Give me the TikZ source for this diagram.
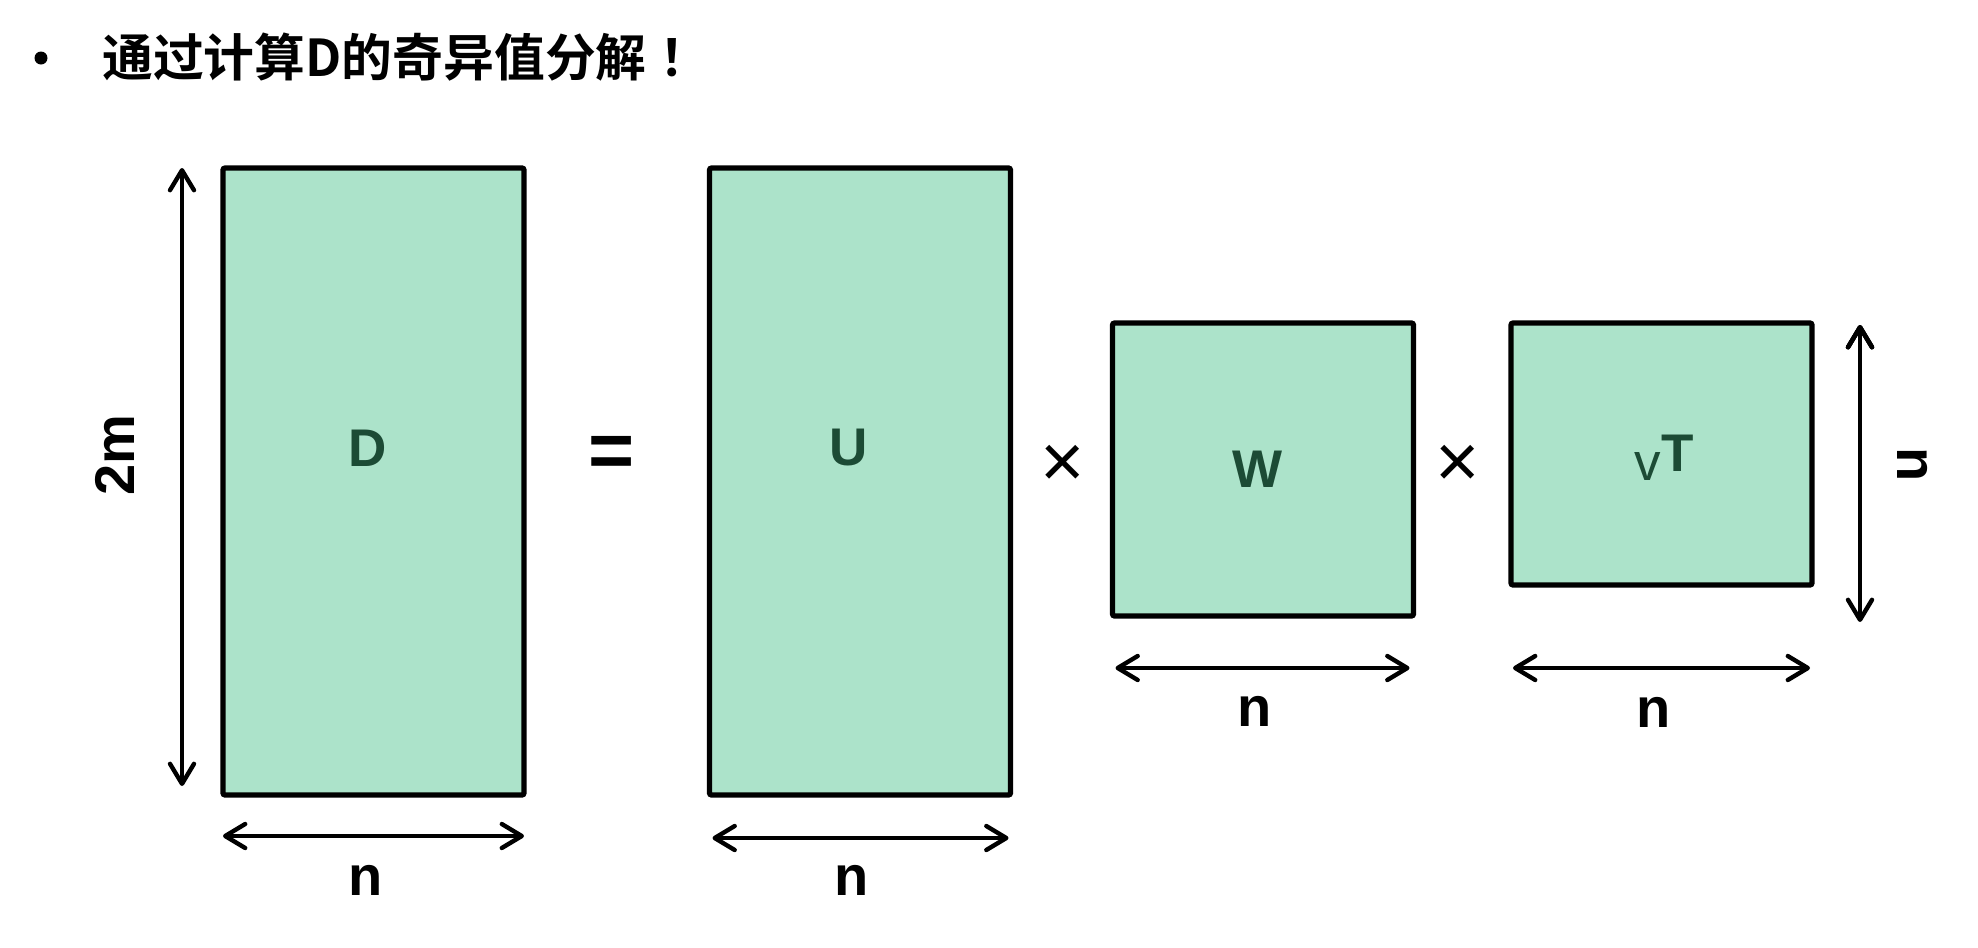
\documentclass[tikz,border=0pt]{standalone}
\usepackage{fontspec}
\setmainfont{Liberation Sans}
\newfontfamily\cjk{Noto Sans CJK SC}[BoldFont={Noto Sans CJK SC Bold}]
\usepackage{tikz}
\usetikzlibrary{arrows.meta}
\usetikzlibrary{calc}
\usetikzlibrary{positioning}

\definecolor{matfill}{HTML}{ACE3CA}
\definecolor{matlabel}{HTML}{1C4B35}

\tikzset{
  matrixbox/.style={draw,line width=2.6pt,fill=matfill,rounded corners=1pt,
    minimum width=150.5pt,inner sep=0pt,outer sep=0pt},
  boxlabel/.style={inner sep=0pt,text=matlabel,font=\fontsize{26.5}{30}\selectfont\bfseries},
  dimarrow/.style={line width=2.2pt,
    {Straight Barb[length=10pt,width=12pt,round]}-{Straight Barb[length=10pt,width=12pt,round]}},
  dimlabel/.style={inner sep=0pt,font=\fontsize{28}{32}\selectfont\bfseries},
  opsign/.style={inner sep=0pt,font=\fontsize{38}{40}\selectfont}
}

\begin{document}
\begin{tikzpicture}[x=0.5pt,y=-0.5pt]

  \useasboundingbox (0,0) rectangle (1978,948);

  \node [circle,fill,inner sep=0pt,minimum size=6.5pt] (bullet) at (41,58) {};
  \node [anchor=west,inner sep=0pt,font=\cjk\bfseries\fontsize{25.4}{28}\selectfont]
    (title) at (102,57) {通过计算D的奇异值分解\kern6.5pt！};

  \node [matrixbox,minimum height=313.5pt] (D) at (373.5,481.5) {};
  \node [matrixbox,minimum height=313.5pt] (U) at (860,481.5) {};
  \node [matrixbox,minimum height=146.5pt] (W) at (1263,469.5) {};
  \node [matrixbox,minimum height=131pt]   (V) at (1661.5,454) {};

  \node [boxlabel] (D_name) at (368,448) {D};
  \node [boxlabel] (U_name) at (849,448) {U};
  \node [boxlabel] (W_name) at (1258,469) {W};
  \node [boxlabel] (V_name) at (1664,458) {{\mdseries v}\raisebox{4.5pt}{T}};

  \node [opsign,font=\fontsize{39.5}{42}\selectfont\bfseries] (eq) at (612,457) {=};
  \node [opsign] (times_1) at (1063,466) {×};
  \node [opsign] (times_2) at (1458,466) {×};

  \coordinate (D_top) at ([xshift=-20.5pt]D.north west);
  \coordinate (D_bot) at ([shift={(-20.5pt,4.5pt)}]D.south west);
  \coordinate (W_dim) at ([shift={(1.5pt,-26pt)}]W.south west);

  \path [draw,dimarrow]
    (D_top) edge (D_bot)
    ([yshift=-20.5pt]D.south west) edge ([yshift=-20.5pt]D.south east)
    ([shift={(1.5pt,-21.5pt)}]U.south west) edge ([shift={(-1pt,-21.5pt)}]U.south east)
    (W_dim) edge ([xshift=-2pt]W.south east |- W_dim)
    ([xshift=1pt]V.south west |- W_dim) edge ([xshift=-1pt]V.south east |- W_dim)
    ($(V.north east)+(24pt,-1pt)$) edge ($(V.east |- W.south)+(24pt,-3pt)$);

  \node [dimlabel,rotate=90]  (D_rows) at (115,455) {2m};
  \node [dimlabel]            (D_cols) at (366,880) {n};
  \node [dimlabel]            (U_cols) at (852,880) {n};
  \node [dimlabel]            (W_cols) at (1255,711) {n};
  \node [dimlabel]            (V_cols) at (1654,712) {n};
  \node [dimlabel,rotate=-90] (V_rows) at (1913,465) {n};

\end{tikzpicture}
\end{document}
